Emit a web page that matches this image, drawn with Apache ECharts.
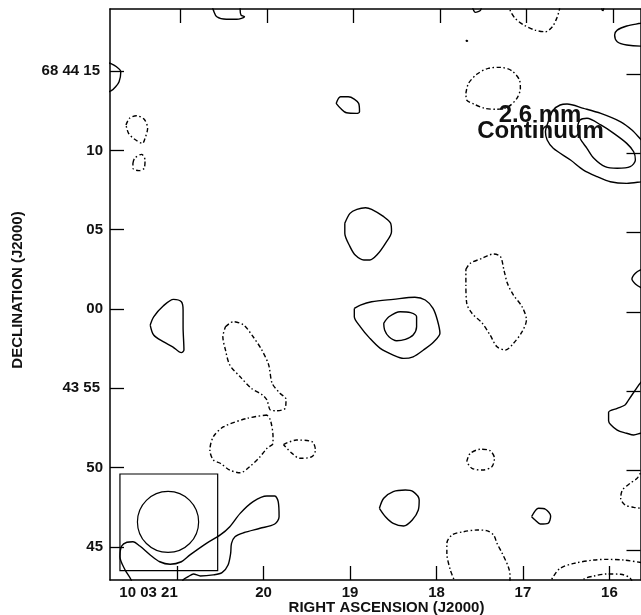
<!DOCTYPE html>
<html>
<head>
<meta charset="utf-8">
<title>2.6 mm Continuum</title>
<script src="https://cdn.jsdelivr.net/npm/echarts@6/dist/echarts.min.js"></script>
<style>
  html, body { margin: 0; padding: 0; background: #fff; }
  #chart { width: 641px; height: 615px; }
</style>
</head>
<body>
<div id="chart"></div>
<script>
// Axes: RA in seconds of time past 10h03m, Dec in arcsec past +68°43'00"
const raTicks = [16, 17, 18, 19, 20, 21];
const raTickLabels = ['16', '17', '18', '19', '20', '10 03 21'];
const decTicks = [45, 50, 55, 60, 65, 70, 75];
const decTickLabels = ['45', '50', '43 55', '00', '05', '10', '68 44 15'];

// Synthesized beam (circular, arcsec) and its frame box
const beamCenter = [21.104, 46.58];
const beamDiameter = 3.85;
const beamBox = [[21.66, 49.60], [20.53, 43.51]];
const decDeg = 68.733;

// Contours [RA s, Dec "] — positive levels
const posA = [[20.60,79.2],[20.58,78.84],[20.54,78.42],[20.43,78.26],[20.31,78.26],[20.22,78.42],[20.26,78.53],[20.27,78.84],[20.27,79.2]];
const posB = [[19.16,72.96],[19.11,73.38],[19.02,73.38],[18.90,72.96],[18.89,72.43],[18.92,72.33],[19.04,72.37],[19.11,72.65],[19.16,72.96]];
const posC = [[21.83,75.57],[21.77,75.48],[21.70,75.27],[21.65,74.96],[21.67,74.33],[21.71,74.01],[21.76,73.76],[21.83,73.61]];
const posD = [[21.31,58.99],[21.27,59.51],[21.16,60.19],[21.04,60.61],[20.95,60.46],[20.93,59.94],[20.93,58.88],[20.92,57.42],[20.95,57.25],[21.05,57.62],[21.16,57.94],[21.27,58.36],[21.31,58.99]];
const posE = [[19.06,65.40],[19.00,66.03],[18.92,66.28],[18.82,66.38],[18.75,66.28],[18.61,65.82],[18.53,65.40],[18.52,64.87],[18.59,64.14],[18.69,63.40],[18.77,63.09],[18.84,63.09],[18.94,63.40],[19.00,63.93],[19.06,64.77],[19.06,65.40]];
const posF = [[18.95,60.04],[18.88,60.25],[18.75,60.46],[18.50,60.61],[18.25,60.74],[18.13,60.57],[18.04,60.04],[17.99,59.31],[17.96,58.47],[18.03,57.94],[18.15,57.42],[18.27,56.99],[18.38,56.89],[18.50,57.10],[18.65,57.52],[18.77,58.15],[18.88,58.88],[18.95,59.51],[18.95,60.04]];
const posG = [[18.61,59.10],[18.55,59.51],[18.42,59.83],[18.30,59.77],[18.23,59.51],[18.23,58.88],[18.27,58.36],[18.36,58.09],[18.46,58.00],[18.55,58.25],[18.60,58.68],[18.61,59.10]];
const posH = [[21.52,42.54],[21.53,42.92],[21.60,43.55],[21.66,44.39],[21.64,45.06],[21.58,45.30],[21.51,45.33],[21.43,45.06],[21.31,44.50],[21.20,44.07],[21.08,43.91],[20.95,44.07],[20.85,44.50],[20.66,45.23],[20.50,45.76],[20.39,46.28],[20.27,47.12],[20.12,47.86],[19.96,48.21],[19.87,48.21],[19.83,47.86],[19.82,46.91],[19.87,46.45],[20.04,46.18],[20.23,45.90],[20.33,45.65],[20.37,45.23],[20.38,44.60],[20.41,43.87],[20.48,43.38],[20.58,43.24],[20.73,43.17],[20.81,43.30],[20.87,43.13],[20.93,42.92],[20.95,42.54]];
const posI = [[18.66,47.44],[18.61,48.07],[18.50,48.49],[18.36,48.59],[18.27,48.49],[18.20,47.96],[18.21,47.33],[18.28,46.70],[18.38,46.32],[18.50,46.49],[18.59,46.91],[18.66,47.44]];
const posJ = [[16.90,46.91],[16.82,47.44],[16.74,47.38],[16.68,46.95],[16.71,46.49],[16.80,46.45],[16.86,46.70],[16.90,46.91]];
const posK = [[15.57,55.65],[15.64,55.36],[15.70,54.90],[15.78,54.26],[15.82,53.95],[15.91,53.74],[16.01,53.49],[16.01,52.96],[15.91,52.37],[15.80,52.17],[15.72,52.06],[15.64,52.17],[15.57,52.25]];
const posL = [[15.57,62.58],[15.64,62.46],[15.70,62.25],[15.74,61.89],[15.70,61.58],[15.64,61.37],[15.57,61.26]];
const posM = [[15.57,78.09],[15.64,78.01],[15.80,77.84],[15.91,77.58],[15.94,77.27],[15.91,76.85],[15.80,76.64],[15.64,76.57],[15.57,76.57]];
const posN = [[17.655,76.95],[17.64,76.90],[17.655,76.87],[17.655,76.95]];
const posO = [[17.59,79.2],[17.58,78.95],[17.55,78.70],[17.49,78.84],[17.48,79.2]];
const posP = [[16.09,79.2],[16.085,78.85],[16.07,78.82],[16.065,79.2]];
const posQ = [[15.57,70.34],[15.63,70.65],[15.74,71.28],[15.87,71.80],[16.10,72.33],[16.30,72.65],[16.49,72.92],[16.57,72.86],[16.65,72.54],[16.70,71.91],[16.74,71.17],[16.72,70.65],[16.65,70.13],[16.45,69.39],[16.30,68.76],[16.14,68.34],[15.99,68.02],[15.80,67.92],[15.63,68.02],[15.57,68.07]];
const posR = [[16.37,71.49],[16.34,71.91],[16.26,72.02],[16.10,71.60],[15.95,71.07],[15.80,70.44],[15.72,69.91],[15.70,69.39],[15.76,68.97],[15.91,68.87],[16.05,68.97],[16.18,69.50],[16.26,70.13],[16.34,70.76],[16.37,71.49]];

// Negative levels
const negA = [[21.59,71.60],[21.55,72.02],[21.47,72.18],[21.38,71.96],[21.34,71.39],[21.37,70.76],[21.40,70.44],[21.49,70.70],[21.56,71.07],[21.59,71.60]];
const negB = [[21.51,69.18],[21.49,69.50],[21.41,69.75],[21.37,69.39],[21.38,68.87],[21.44,68.72],[21.51,68.87],[21.51,69.18]];
const negC = [[17.66,62.50],[17.61,62.88],[17.47,63.20],[17.34,63.47],[17.26,63.30],[17.22,62.46],[17.18,61.62],[17.11,60.88],[17.01,60.14],[16.96,59.31],[17.01,58.57],[17.11,57.84],[17.20,57.42],[17.30,57.62],[17.38,58.36],[17.47,59.10],[17.59,59.73],[17.65,60.36],[17.66,61.62],[17.66,62.50]];
const negD = [[20.44,58.88],[20.35,59.20],[20.23,58.99],[20.12,58.25],[20.02,57.42],[19.94,56.47],[19.90,55.32],[19.81,54.69],[19.74,54.31],[19.75,53.74],[19.85,53.59],[19.92,53.63],[19.96,54.26],[20.01,54.58],[20.14,55.00],[20.27,55.73],[20.39,56.47],[20.44,57.42],[20.47,58.25],[20.44,58.88]];
const negE = [[19.96,53.32],[20.19,53.11],[20.46,52.58],[20.58,51.95],[20.62,51.11],[20.58,50.48],[20.50,50.28],[20.39,49.85],[20.27,49.68],[20.16,50.06],[20.04,50.69],[19.96,51.22],[19.89,51.54],[19.89,51.95],[19.92,53.00],[19.96,53.32]];
const negF = [[19.77,51.46],[19.62,51.74],[19.44,51.64],[19.40,51.11],[19.44,50.69],[19.58,50.59],[19.67,50.90],[19.77,51.46]];
const negG = [[17.65,50.38],[17.61,50.90],[17.49,51.16],[17.38,51.07],[17.33,50.59],[17.36,50.06],[17.47,49.85],[17.59,49.96],[17.65,50.38]];
const negH = [[17.79,42.54],[17.80,42.96],[17.84,43.55],[17.88,44.60],[17.88,45.23],[17.82,45.76],[17.69,45.96],[17.53,46.07],[17.42,46.03],[17.34,45.76],[17.30,45.23],[17.24,44.60],[17.17,43.76],[17.15,43.24],[17.15,42.92],[17.16,42.54]];
const negI = [[16.69,42.54],[16.67,42.92],[16.65,43.13],[16.57,43.66],[16.41,43.97],[16.18,44.18],[16.03,44.22],[15.84,44.18],[15.62,44.01],[15.55,43.93]];
const negJ = [[16.32,42.54],[16.30,42.96],[16.18,43.17],[16.03,43.30],[15.87,43.28],[15.76,43.03],[15.72,42.54]];
const negK = [[15.57,49.85],[15.64,49.65],[15.68,49.33],[15.76,49.02],[15.85,48.59],[15.87,48.07],[15.82,47.65],[15.72,47.50],[15.62,47.44],[15.56,47.43]];
const negL = [[17.16,79.29],[17.15,78.84],[17.09,78.32],[16.99,77.90],[16.86,77.58],[16.74,77.48],[16.66,77.79],[16.61,78.32],[16.58,78.84],[16.57,79.29]];
const negM = [[17.66,73.59],[17.63,74.22],[17.53,74.81],[17.40,75.17],[17.26,75.23],[17.13,75.02],[17.04,74.43],[17.03,73.91],[17.07,73.28],[17.17,72.75],[17.30,72.59],[17.44,72.65],[17.57,72.92],[17.65,73.17],[17.66,73.59]];

const positiveContours = [posA, posB, posC, posD, posE, posF, posG, posH, posI, posJ, posK, posL, posM, posN, posO, posP, posQ, posR];
const negativeContours = [negA, negB, negC, negD, negE, negF, negG, negH, negI, negJ, negK, negL, negM];

const FONT = '"Liberation Sans", Arial, Helvetica, sans-serif';
const INK = '#111';
const dashPattern = [4.5, 2.5, 1.5, 2.5];

function labelFor(values, labels, v) {
  for (let i = 0; i < values.length; i++) {
    if (Math.abs(values[i] - v) < 1e-6) return labels[i];
  }
  return '';
}

const tickBase = { show: true, inside: true, length: 14, lineStyle: { color: '#000', width: 1.3 } };
const lineBase = { show: true, onZero: false, lineStyle: { color: '#000', width: 1.5 } };
const labelText = { color: INK, fontSize: 15, fontWeight: 'bold', fontFamily: FONT };

const chart = echarts.init(document.getElementById('chart'), null, { renderer: 'canvas' });

const contourSeries = [];
positiveContours.forEach(function (pts) {
  contourSeries.push({
    type: 'line', data: pts, showSymbol: false, symbol: 'none', smooth: 0.3,
    lineStyle: { color: '#000', width: 1.4, type: 'solid' },
    silent: true, clip: true, z: 3
  });
});
negativeContours.forEach(function (pts) {
  contourSeries.push({
    type: 'line', data: pts, showSymbol: false, symbol: 'none', smooth: 0.3,
    lineStyle: { color: '#000', width: 1.4, type: dashPattern },
    silent: true, clip: true, z: 3
  });
});

// RA seconds of time per arcsec at this declination
const raPerArcsec = 1 / (15 * Math.cos(decDeg * Math.PI / 180));

const beamSeries = {
  type: 'custom',
  silent: true,
  z: 4,
  data: [[beamCenter[0], beamCenter[1], beamDiameter * raPerArcsec, beamDiameter]],
  renderItem: function (params, api) {
    const c = api.coord([api.value(0), api.value(1)]);
    const s = api.size([api.value(2), api.value(3)]);
    const p0 = api.coord(beamBox[0]);
    const p1 = api.coord(beamBox[1]);
    return {
      type: 'group',
      children: [
        {
          type: 'rect',
          shape: { x: Math.min(p0[0], p1[0]), y: Math.min(p0[1], p1[1]),
                   width: Math.abs(p1[0] - p0[0]), height: Math.abs(p1[1] - p0[1]) },
          style: { fill: 'none', stroke: '#000', lineWidth: 1.2 }
        },
        {
          type: 'ellipse',
          shape: { cx: c[0], cy: c[1], rx: Math.abs(s[0]) / 2, ry: Math.abs(s[1]) / 2 },
          style: { fill: 'none', stroke: '#000', lineWidth: 1.2 }
        }
      ]
    };
  }
};

chart.setOption({
  animation: false,
  backgroundColor: '#fff',
  grid: { left: 110, top: 9, right: 0.5, bottom: 35, show: false },
  xAxis: [
    {
      type: 'value', position: 'bottom', inverse: true, min: 15.641, max: 21.775,
      axisLine: lineBase,
      axisTick: Object.assign({}, tickBase, { customValues: raTicks }),
      axisLabel: Object.assign({}, labelText, {
        customValues: raTicks, margin: 5,
        formatter: function (v) {
          const t = labelFor(raTicks, raTickLabels, v);
          return t.indexOf(' ') >= 0 ? '{wide|' + t + '}' : t;
        },
        rich: { wide: Object.assign({}, labelText, { padding: [0, 57, 0, 0] }) }
      }),
      splitLine: { show: false }
    },
    {
      type: 'value', position: 'top', inverse: true, min: 15.681, max: 21.815,
      axisLine: lineBase,
      axisTick: Object.assign({}, tickBase, { customValues: raTicks }),
      axisLabel: { show: false },
      splitLine: { show: false }
    }
  ],
  yAxis: [
    {
      type: 'value', position: 'left', min: 42.92, max: 78.91,
      axisLine: lineBase,
      axisTick: Object.assign({}, tickBase, { customValues: decTicks }),
      axisLabel: Object.assign({}, labelText, {
        customValues: decTicks, margin: 7,
        formatter: function (v) {
          const t = labelFor(decTicks, decTickLabels, v);
          return t.indexOf(' ') >= 0 ? '{sp|' + t + '}' : t;
        },
        rich: { sp: Object.assign({}, labelText, { padding: [0, 3, 0, 0] }) }
      }),
      splitLine: { show: false }
    },
    {
      type: 'value', position: 'right', min: 43.11, max: 79.10,
      axisLine: lineBase,
      axisTick: Object.assign({}, tickBase, { customValues: decTicks }),
      axisLabel: { show: false },
      splitLine: { show: false }
    }
  ],
  graphic: [
    { type: 'text', x: 386.5, y: 608, z: 10,
      style: { text: 'RIGHT ASCENSION (J2000)', fill: INK, fontSize: 15, fontWeight: 'bold', fontFamily: FONT, align: 'center', verticalAlign: 'middle' } },
    { type: 'text', x: 17.5, y: 290, rotation: Math.PI / 2, z: 10,
      style: { text: 'DECLINATION (J2000)', fill: INK, fontSize: 15, fontWeight: 'bold', fontFamily: FONT, align: 'center', verticalAlign: 'middle' } },
    { type: 'text', x: 540, y: 115.5, z: 10,
      style: { text: '2.6 mm', fill: INK, fontSize: 24, fontWeight: 'bold', fontFamily: FONT, align: 'center', verticalAlign: 'middle' } },
    { type: 'text', x: 540.5, y: 131, z: 10,
      style: { text: 'Continuum', fill: INK, fontSize: 24, fontWeight: 'bold', fontFamily: FONT, align: 'center', verticalAlign: 'middle' } }
  ],
  series: contourSeries.concat([beamSeries])
});
</script>
</body>
</html>
